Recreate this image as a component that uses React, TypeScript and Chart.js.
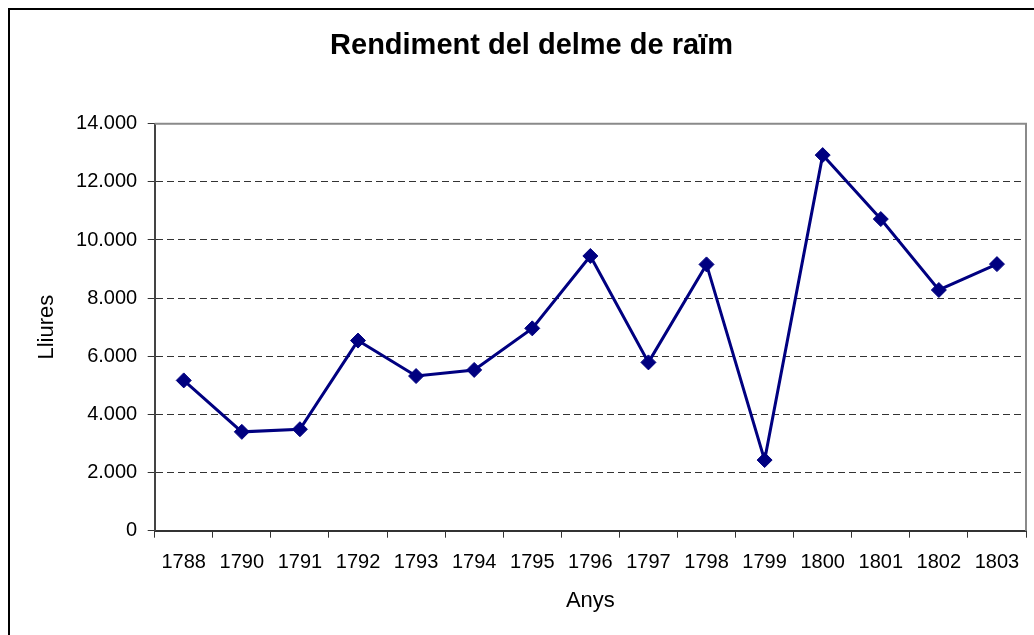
import React, { useEffect, useRef } from "react";
import { Chart, registerables } from "chart.js";

Chart.register(...registerables);

const categories = ["1788", "1790", "1791", "1792", "1793", "1794", "1795", "1796", "1797", "1798", "1799", "1800", "1801", "1802", "1803"];
const lliures = [5170, 3400, 3490, 6540, 5320, 5530, 6960, 9450, 5790, 9160, 2430, 12920, 10720, 8280, 9170];
const yMin = 0;
const yMax = 14000;
const yStep = 2000;

const chartTitle = "Rendiment del delme de raïm";
const xTitle = "Anys";
const yTitle = "Lliures";

const FONT = "'Liberation Sans', Arial, Helvetica, sans-serif";

function fmt(v: number): string {
  return String(Math.round(v)).replace(/\B(?=(\d{3})+(?!\d))/g, ".");
}

const framePlugin = {
  id: "frame",
  beforeDatasetsDraw(chart: any) {
    const { ctx, chartArea } = chart;
    ctx.save();
    ctx.strokeStyle = "#8a8a8a";
    ctx.lineWidth = 2;
    ctx.beginPath();
    ctx.moveTo(chartArea.left, chartArea.top);
    ctx.lineTo(chartArea.right, chartArea.top);
    ctx.lineTo(chartArea.right, chartArea.bottom);
    ctx.stroke();
    ctx.restore();
  },
};

export default function App() {
  const ref = useRef<HTMLCanvasElement | null>(null);

  useEffect(() => {
    if (!ref.current) return;
    const chart = new Chart(ref.current, {
      type: "line",
      data: {
        labels: categories,
        datasets: [
          {
            data: lliures,
            borderColor: "#000080",
            backgroundColor: "#000080",
            borderWidth: 3,
            pointStyle: "rectRot",
            pointRadius: 7.5,
            pointBorderWidth: 1,
            pointBackgroundColor: "#000080",
            pointBorderColor: "#000080",
            tension: 0,
            fill: false,
          },
        ],
      },
      options: {
        responsive: false,
        animation: false,
        layout: { padding: { left: 27, right: 29, top: 0, bottom: 0 } },
        plugins: {
          legend: { display: false },
          tooltip: { enabled: false },
          title: {
            display: true,
            text: chartTitle,
            color: "#000",
            font: { family: FONT, size: 29, weight: "bold" },
            padding: { top: 18.5, bottom: 60.4 },
          },
        },
        scales: {
          x: {
            type: "category",
            offset: true,
            grid: {
              offset: true,
              drawOnChartArea: false,
              drawTicks: true,
              tickLength: 7,
              tickColor: "#333",
              tickWidth: 1,
            },
            border: { display: true, color: "#333", width: 2 },
            ticks: {
              color: "#000",
              font: { family: FONT, size: 20 },
              padding: 13,
              maxRotation: 0,
              autoSkip: false,
            },
            title: {
              display: true,
              text: xTitle,
              color: "#000",
              font: { family: FONT, size: 22 },
              padding: { top: 0, bottom: 35.8 },
            },
            afterFit(scale: any) {
              scale.height = 119.3;
            },
          },
          y: {
            min: yMin,
            max: yMax,
            grid: {
              color: (c: any) => (c.tick && (c.tick.value === yMin || c.tick.value === yMax) ? "rgba(0,0,0,0)" : "#333"),
              lineWidth: 1,
              drawTicks: true,
              tickLength: 7,
              tickColor: "#333",
              tickWidth: 1,
              tickBorderDash: [],
            },
            border: { display: true, color: "#444", width: 2, dash: [7, 4] },
            ticks: {
              stepSize: yStep,
              color: "#000",
              font: { family: FONT, size: 20 },
              padding: 10.5,
              callback: (v: any) => fmt(Number(v)),
            },
            title: {
              display: true,
              text: yTitle,
              color: "#000",
              font: { family: FONT, size: 22, lineHeight: 1 },
              padding: { top: -1.5, bottom: 0 },
            },
            afterFit(scale: any) {
              scale.width = 117.7;
            },
          },
        },
      },
      plugins: [framePlugin],
    });
    return () => chart.destroy();
  }, []);

  return (
    <div
      style={{
        position: "fixed",
        left: 8,
        top: 8,
        width: 1026,
        height: 627,
        overflow: "hidden",
        borderLeft: "2px solid #000",
        borderTop: "2px solid #000",
        boxSizing: "border-box",
        background: "#fff",
      }}
    >
      <canvas ref={ref} width={1045} height={640} style={{ display: "block" }} />
    </div>
  );
}
